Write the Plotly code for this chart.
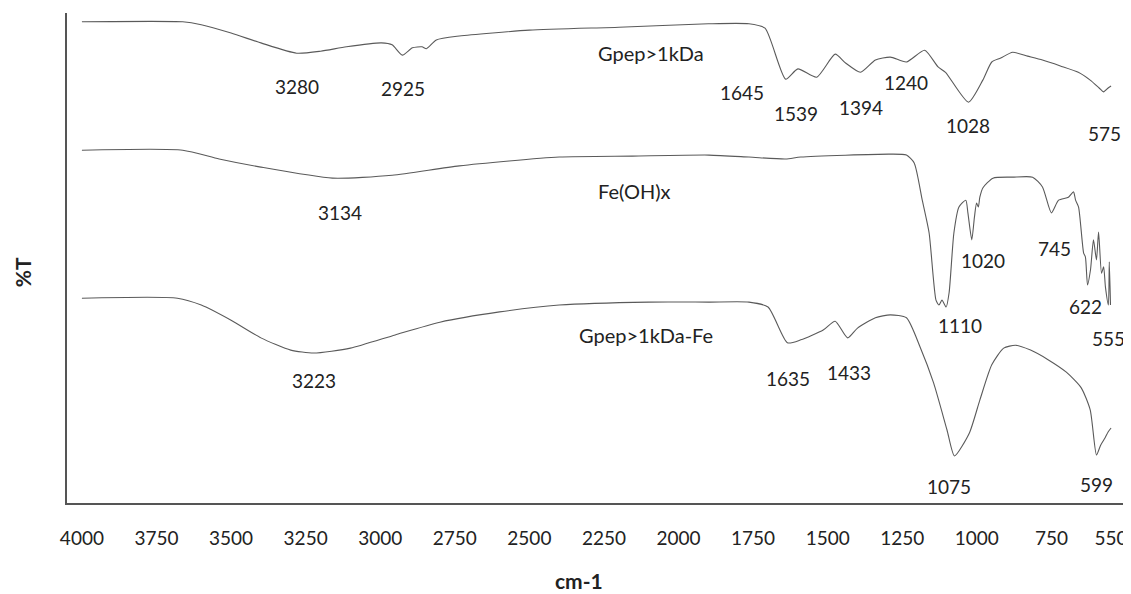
import plotly.graph_objects as go

# ---- data (wavenumber cm-1, %T offset spectra) ----
wn_gpep = [4000, 3662, 3600, 3500, 3400, 3280, 3200, 3113, 2996, 2960, 2926, 2892, 2860, 2845,
           2812, 2735, 2500, 2200, 1900, 1764, 1710, 1641, 1600, 1537, 1475, 1440, 1390, 1340,
           1290, 1236, 1175, 1130, 1105, 1028, 980, 950, 920, 880, 830, 780, 720, 660, 620,
           590, 575, 560, 550]
t_gpep = [98.2, 98.2, 97.6, 95.9, 93.9, 91.8, 92.2, 93.1, 93.9, 93.5, 91.4, 92.9, 93.1, 92.7,
          94.5, 95.3, 96.5, 97.1, 97.8, 97.8, 96.9, 86.5, 88.6, 86.9, 91.6, 89.8, 87.9, 90.4,
          91.0, 90.0, 92.4, 89.0, 87.9, 81.8, 86.3, 90.0, 90.8, 92.0, 91.2, 90.4, 89.2, 87.9, 86.3,
          84.7, 83.9, 84.7, 85.1]

wn_feoh = [4000, 3662, 3540, 3405, 3160, 2960, 2735, 2400, 2155, 1898, 1764, 1641, 1590, 1290,
           1236, 1210, 1183, 1160, 1137, 1127, 1117, 1103, 1093, 1077, 1060, 1037, 1030, 1017,
           1008, 1001, 995, 990, 980, 946, 880, 813, 780, 750, 726, 693, 676, 669, 659, 642, 636,
           629, 619, 609, 599, 592, 582, 575, 569, 559, 556, 552]
t_feoh = [72.0, 72.0, 70.2, 68.6, 66.3, 66.9, 68.8, 70.6, 70.8, 71.0, 70.6, 70.2, 70.6, 71.2,
          71.0, 69.4, 61.8, 55.1, 41.4, 40.4, 41.4, 40.0, 42.9, 55.1, 60.4, 61.8, 59.2, 53.7,
          58.4, 61.2, 60.4, 62.4, 64.3, 66.3, 66.5, 66.5, 64.5, 59.2, 61.8, 62.4, 63.5, 61.8, 60.4,
          51.0, 50.2, 44.5, 47.6, 53.7, 49.6, 55.3, 46.9, 48.2, 44.1, 40.4, 49.2, 40.4]

wn_gpfe = [4000, 3680, 3600, 3500, 3400, 3300, 3223, 3100, 2950, 2800, 2600, 2400, 2100, 1900,
           1764, 1700, 1635, 1590, 1515, 1475, 1433, 1400, 1340, 1290, 1236, 1190, 1145, 1100,
           1075, 1025, 990, 950, 910, 870, 820, 760, 700, 650, 620, 599, 585, 570, 560, 550]
t_gpfe = [41.8, 41.8, 40.4, 37.3, 33.7, 31.2, 30.6, 31.6, 34.3, 36.9, 39.0, 40.4, 41.0, 41.0,
          41.0, 40.0, 32.7, 33.3, 35.3, 37.1, 33.7, 35.7, 37.8, 38.4, 37.8, 31.8, 24.5, 14.9,
          9.6, 14.3, 21.0, 28.2, 31.6, 32.2, 31.2, 29.2, 26.7, 23.5, 19.0, 9.8, 11.8, 13.3, 14.5,
          15.3]

tick_vals = [4000, 3750, 3500, 3250, 3000, 2750, 2500, 2250, 2000, 1750, 1500, 1250, 1000, 750, 550]

# series labels: (text, x in cm-1, y in %T)
series_labels = [("Gpep>1kDa", 2092, 91.8), ("Fe(OH)x", 2149, 63.7), ("Gpep>1kDa-Fe", 2109, 34.3)]
# peak labels: (text, x in cm-1, y in %T)
peak_labels = [
    ("3280", 3280, 84.9), ("2925", 2925, 84.5), ("1645", 1788, 83.7), ("1539", 1607, 79.4),
    ("1394", 1390, 80.8), ("1240", 1239, 85.9), ("1028", 1028, 77.0), ("575", 572, 75.5),
    ("3134", 3134, 59.2), ("1110", 1058, 36.3), ("1020", 981, 49.4), ("745", 740, 52.0),
    ("622", 637, 40.2), ("555", 560, 33.5),
    ("3223", 3223, 25.1), ("1635", 1634, 25.5), ("1433", 1430, 26.7), ("1075", 1095, 3.3),
    ("599", 600, 3.7),
]

FONT = "Lato"
TXT = "#222222"
line_col = "#5a5a5a"
fig = go.Figure()
for wn, t, nm in [(wn_gpep, t_gpep, "Gpep>1kDa"), (wn_feoh, t_feoh, "Fe(OH)x"),
                  (wn_gpfe, t_gpfe, "Gpep>1kDa-Fe")]:
    fig.add_trace(go.Scatter(x=wn, y=t, mode="lines", name=nm,
                             line=dict(color=line_col, width=1.1, shape="spline", smoothing=0.6),
                             showlegend=False))

for txt, x, y in series_labels:
    fig.add_annotation(x=x, y=y, text=txt, showarrow=False,
                       font=dict(family=FONT, size=20, color=TXT))
for txt, x, y in peak_labels:
    fig.add_annotation(x=x, y=y, text=txt, showarrow=False,
                       font=dict(family=FONT, size=19, color=TXT))

# axis titles
fig.add_annotation(xref="paper", yref="paper", x=0.4835, y=-0.158, text="<b>cm-1</b>",
                   showarrow=False, xanchor="center", yanchor="middle",
                   font=dict(family=FONT, size=21, color=TXT))
fig.add_annotation(xref="paper", yref="paper", x=0, y=0.471, xshift=-45, text="<b>%T</b>",
                   showarrow=False, textangle=-90, xanchor="center", yanchor="middle",
                   font=dict(family=FONT, size=21, color=TXT))

# the page body adds an 8px offset, so the figure is 8px smaller than the window
fig.update_layout(
    width=1123, height=586,
    margin=dict(l=59, r=3, t=5, b=91),
    paper_bgcolor="white", plot_bgcolor="white",
    font=dict(family=FONT, size=19, color=TXT),
    xaxis=dict(range=[4050, 500], tickvals=tick_vals, ticktext=[str(v) for v in tick_vals],
               showline=True, linecolor="#555555", linewidth=1.6, showgrid=False, zeroline=False,
               ticks="", ticklabelstandoff=17),
    yaxis=dict(range=[0, 100], showticklabels=False, showline=True, linecolor="#555555",
               linewidth=1.6, showgrid=False, zeroline=False, ticks=""),
)

fig.write_html("out.html")
